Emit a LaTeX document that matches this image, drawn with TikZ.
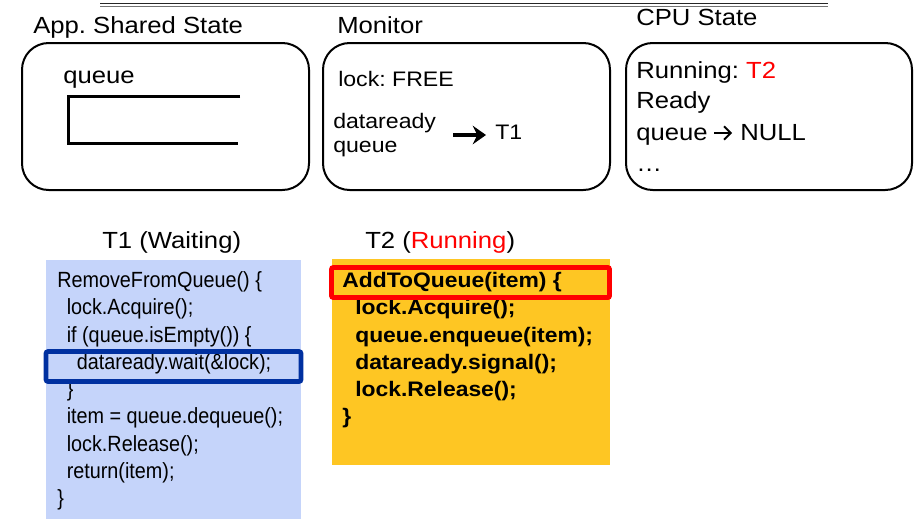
\documentclass[tikz,border=0pt]{standalone}
\usepackage{fontspec}
\setmainfont{Liberation Sans}
\newfontfamily\wf[FakeStretch=1.1]{Liberation Sans}
\newfontfamily\nf[FakeStretch=0.9]{Liberation Sans}
\newfontfamily\cbf[FakeStretch=1.09]{Liberation Sans}
\usetikzlibrary{arrows.meta}
\definecolor{tred}{RGB}{255,0,0}
\definecolor{tblue}{RGB}{197,212,250}
\definecolor{tyellow}{RGB}{254,198,35}
\definecolor{hblue}{RGB}{0,48,160}
\tikzset{
  statebox/.style={draw=black, line width=1.5pt, rounded corners=20pt},
  titletext/.style={anchor=base west, inner sep=0pt, font=\wf\fontsize{17.5}{21}\selectfont},
  bigtext/.style={anchor=base west, inner sep=0pt, font=\wf\fontsize{17.5}{21}\selectfont},
  montext/.style={anchor=base west, inner sep=0pt, font=\wf\fontsize{15.75}{19}\selectfont},
  codeone/.style={anchor=base west, inner sep=0pt, font=\nf\fontsize{16.5}{20}\selectfont},
  codetwo/.style={anchor=base west, inner sep=0pt, font=\cbf\bfseries\fontsize{15.75}{19}\selectfont},
  hilite/.style={line width=3.5pt, rounded corners=1.5pt},
  bigarrow/.style={line width=3.2pt, -{Stealth[length=10pt,width=14pt,inset=3.5pt]}},
  thinarrow/.style={line width=1.4pt, -{Straight Barb[length=5pt,width=10pt,line width=1.4pt]}},
}
\begin{document}
\frenchspacing
\begin{tikzpicture}[x=0.75pt,y=-0.75pt]
\useasboundingbox (0,0) rectangle (916,519);
% top double rule
\draw[line width=0.9pt, black!85] (100,3.2) -- (828,3.2);
\draw[line width=0.9pt, black!55] (100,6.2) -- (828,6.2);

% titles
\node[titletext] (tApp) at (33,33) {App. Shared State};
\node[titletext] (tMon) at (337,33) {Monitor};
\node[titletext] (tCpu) at (636,25) {CPU State};

% state boxes
\draw[statebox] (22,43) rectangle (309,190);
\draw[statebox] (323,43) rectangle (610,190);
\draw[statebox] (626,43) rectangle (912,190);

% box 1
\node[bigtext] (q1) at (63,83) {queue};
\draw[line width=2.25pt] (240,96) -- (68,96) -- (68,143) -- (238,143);

% box 2
\node[montext] (lock) at (338,86) {lock: FREE};
\node[montext] (dr) at (333,128) {dataready};
\node[montext] (drq) at (333,152) {queue};
\coordinate (arrS) at (453,135);
\coordinate (arrE) at (486,135);
\draw[bigarrow] (arrS) -- (arrE);
\node[montext] (t1w) at (495,139) {T1};

% box 3
\node[bigtext] (run) at (636,78) {Running: \textcolor{tred}{T2}};
\node[bigtext] (rdy) at (636,108) {Ready};
\node[bigtext] (rq) at (636,140) {queue};
\coordinate (qaS) at (714,133);
\coordinate (qaE) at (732,133);
\draw[thinarrow] (qaS) -- (qaE);
\node[bigtext] (rnull) at (740,140) {NULL};
\node[bigtext] (dots) at (636,171) {…};

% thread titles
\node[titletext] (t1t) at (102,248) {T1 (Waiting)};
\node[titletext] (t2t) at (365,248) {T2 (\textcolor{tred}{Running})};

% T1 code
\fill[tblue] (46,260) rectangle (301,519);
\node[codeone] (c1) at (57,287.5) {RemoveFromQueue() \{};
\node[codeone] (c2) at (66.5,314.75) {lock.Acquire();};
\node[codeone] (c3) at (66.5,342) {if (queue.isEmpty()) \{};
\node[codeone] (c4) at (76.5,369.25) {dataready.wait(\&lock);};
\node[codeone] (c5) at (66.5,396.5) {\}};
\node[codeone] (c6) at (66.5,423.75) {item = queue.dequeue();};
\node[codeone] (c7) at (66.5,451) {lock.Release();};
\node[codeone] (c8) at (66.5,478.25) {return(item);};
\node[codeone] (c9) at (57,505.5) {\}};
\draw[hilite, hblue] (46,351.5) rectangle (301,381.5);

% T2 code
\fill[tyellow] (332,259) rectangle (610,465);
\node[codetwo] (d1) at (342,287.5) {AddToQueue(item) \{};
\node[codetwo] (d2) at (355,314.75) {lock.Acquire();};
\node[codetwo] (d3) at (355,342) {queue.enqueue(item);};
\node[codetwo] (d4) at (355,369.25) {dataready.signal();};
\node[codetwo] (d5) at (355,396.5) {lock.Release();};
\node[codetwo] (d6) at (342,423.75) {\}};
\draw[hilite, tred, line width=3.7pt] (331.5,267.5) rectangle (609.5,297.5);
\end{tikzpicture}
\end{document}
